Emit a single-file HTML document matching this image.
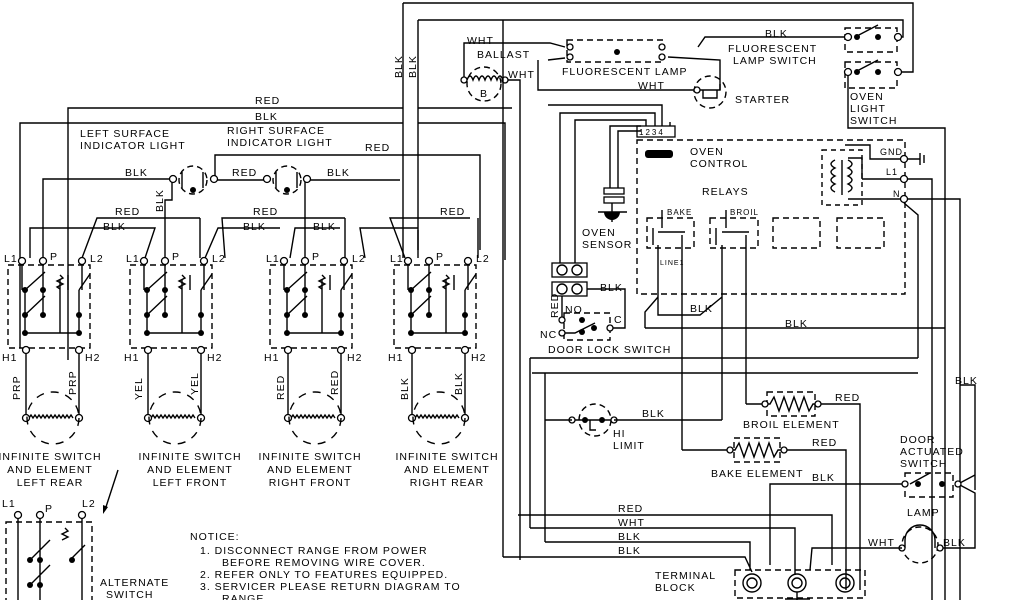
<!DOCTYPE html>
<html><head><meta charset="utf-8"><style>
html,body{margin:0;padding:0;background:#fff}
svg{display:block}
text{font-family:"Liberation Sans",sans-serif;font-size:10.5px;fill:#000;letter-spacing:1px}
.w{fill:none;stroke:#000;stroke-width:1.4}
.d{fill:none;stroke:#000;stroke-width:1.4;stroke-dasharray:6,4}
.t{fill:#fff;stroke:#000;stroke-width:1.3}
.k{fill:#000}
</style></head><body>
<svg width="1024" height="600" viewBox="0 0 1024 600">
<defs>
<g id="sw">
 <rect class="d" x="8" y="265" width="82" height="83"/>
 <path class="w" d="M22,261V290M43,261V315M82,261V290M60,280V333M25,290V333H79V290M43,315V290M68,275V290"/>
 <path class="w" d="M25,315L45,296M25,290L45,272M79,290L90,274M60,275l3,3-6,3 6,3-6,3 3,2"/>
 <circle class="k" cx="25" cy="290" r="3"/><circle class="k" cx="43" cy="290" r="3"/>
 <circle class="k" cx="25" cy="315" r="3"/><circle class="k" cx="43" cy="315" r="3"/>
 <circle class="k" cx="25" cy="333" r="3"/><circle class="k" cx="79" cy="333" r="3"/><circle class="k" cx="79" cy="315" r="3"/>
 <circle class="t" cx="22" cy="261" r="3.5"/><circle class="t" cx="43" cy="261" r="3.5"/><circle class="t" cx="82" cy="261" r="3.5"/>
 <path class="w" d="M26,348V418M79,348V418"/>
 <circle class="t" cx="26" cy="350" r="3.5"/><circle class="t" cx="79" cy="350" r="3.5"/>
 <path class="w" d="M29,418l2,-3 2,3 2,-3 2,3 2,-3 2,3 2,-3 2,3 2,-3 2,3 2,-3 2,3 2,-3 2,3 2,-3 2,3 2,-3 2,3 2,-3 2,3 2,-3 2,3"/>
 <circle class="t" cx="26" cy="418" r="3.5"/><circle class="t" cx="79" cy="418" r="3.5"/>
 <circle class="d" cx="53" cy="418" r="26" style="stroke-dasharray:8,7"/>
 <text x="4" y="262">L1</text><text x="50" y="260">P</text><text x="90" y="262">L2</text>
 <text x="2" y="361">H1</text><text x="85" y="361">H2</text>
</g>
</defs>

<!-- left top wires -->
<path class="w" d="M68,360V108H403M418,108H512M20,348V123H403M418,123H505V260"/>
<path class="w" d="M43,258V179H172M215,180H268M305,180H400M215,180V155H480V250M172,179V200H165V258M305,180V258"/>
<circle class="d" cx="193" cy="180" r="14"/><circle class="d" cx="287" cy="180" r="14"/>
<path class="w" d="M182,172V188M203,172V188M276,172V188M297,172V188"/>
<circle class="k" cx="193" cy="190" r="3"/><circle class="k" cx="287" cy="190" r="3"/>
<circle class="t" cx="173" cy="179" r="3.5"/><circle class="t" cx="214" cy="179" r="3.5"/><circle class="t" cx="267" cy="179" r="3.5"/><circle class="t" cx="307" cy="179" r="3.5"/>
<!-- cross wires between boxes -->
<path class="w" d="M82,258L97,218H200M145,258L155,228H30V258M200,218V258M225,258L222,218H345M205,258L218,228H280M345,218V258M365,258L360,228H418M290,258L295,228H340M405,258L390,218H470M478,258V218M418,230V258"/>
<path class="w" d="M403,3V258M418,20V250"/>
<text x="255" y="104">RED</text><text x="255" y="120">BLK</text>
<text x="80" y="137">LEFT SURFACE</text><text x="80" y="149">INDICATOR LIGHT</text>
<text x="227" y="134">RIGHT SURFACE</text><text x="227" y="146">INDICATOR LIGHT</text>
<text x="125" y="176">BLK</text><text x="232" y="176">RED</text><text x="327" y="176">BLK</text><text x="365" y="151">RED</text>
<text x="115" y="215">RED</text><text x="103" y="230">BLK</text><text x="253" y="215">RED</text><text x="243" y="230">BLK</text><text x="313" y="230">BLK</text><text x="440" y="215">RED</text>
<text transform="translate(163,212) rotate(-90)">BLK</text>
<text transform="translate(402,78) rotate(-90)">BLK</text><text transform="translate(416,78) rotate(-90)">BLK</text>

<use href="#sw"/>
<use href="#sw" x="122"/>
<use href="#sw" x="262"/>
<use href="#sw" x="386"/>
<text transform="translate(20,400) rotate(-90)">PRP</text><text transform="translate(76,395) rotate(-90)">PRP</text>
<text transform="translate(142,400) rotate(-90)">YEL</text><text transform="translate(198,395) rotate(-90)">YEL</text>
<text transform="translate(284,400) rotate(-90)">RED</text><text transform="translate(338,395) rotate(-90)">RED</text>
<text transform="translate(408,400) rotate(-90)">BLK</text><text transform="translate(462,395) rotate(-90)">BLK</text>

<g text-anchor="middle">
<text x="50" y="460">INFINITE SWITCH</text><text x="50" y="473">AND ELEMENT</text><text x="50" y="486">LEFT REAR</text>
<text x="190" y="460">INFINITE SWITCH</text><text x="190" y="473">AND ELEMENT</text><text x="190" y="486">LEFT FRONT</text>
<text x="310" y="460">INFINITE SWITCH</text><text x="310" y="473">AND ELEMENT</text><text x="310" y="486">RIGHT FRONT</text>
<text x="447" y="460">INFINITE SWITCH</text><text x="447" y="473">AND ELEMENT</text><text x="447" y="486">RIGHT REAR</text>
</g>
<path class="w" d="M118,470L105,510"/><path class="k" d="M103,514l0,-9 5,2z"/>
<!-- alternate switch -->
<rect class="d" x="6" y="522" width="86" height="80"/>
<path class="w" d="M18,515V600M40,515V600M82,515V600M30,560L50,540M30,585L50,565M70,560L85,545M65,528l3,3-6,3 6,3-6,3"/>
<circle class="k" cx="30" cy="560" r="3"/><circle class="k" cx="40" cy="560" r="3"/><circle class="k" cx="30" cy="585" r="3"/><circle class="k" cx="40" cy="585" r="3"/><circle class="k" cx="72" cy="560" r="3"/>
<circle class="t" cx="18" cy="515" r="3.5"/><circle class="t" cx="40" cy="515" r="3.5"/><circle class="t" cx="82" cy="515" r="3.5"/>
<text x="2" y="507">L1</text><text x="45" y="512">P</text><text x="82" y="507">L2</text>
<text x="100" y="586">ALTERNATE</text><text x="106" y="598">SWITCH</text>
<text x="190" y="540">NOTICE:</text>
<text x="200" y="554">1. DISCONNECT RANGE FROM POWER</text>
<text x="222" y="566">BEFORE REMOVING WIRE COVER.</text>
<text x="200" y="578">2. REFER ONLY TO FEATURES EQUIPPED.</text>
<text x="200" y="590">3. SERVICER PLEASE RETURN DIAGRAM TO</text>
<text x="222" y="602">RANGE.</text>

<!-- top right -->
<path class="w" d="M403,3H913V72H900M418,20H903V37H897M848,37H705L698,47M848,72V128H945V600"/>
<rect class="d" x="845" y="28" width="52" height="24"/><rect class="d" x="845" y="62" width="52" height="26"/>
<path class="w" d="M855,37L878,25M855,72L878,60"/>
<circle class="k" cx="857" cy="37" r="3"/><circle class="k" cx="878" cy="37" r="3"/><circle class="k" cx="857" cy="72" r="3"/><circle class="k" cx="878" cy="72" r="3"/>
<circle class="t" cx="848" cy="37" r="3.5"/><circle class="t" cx="898" cy="37" r="3.5"/><circle class="t" cx="848" cy="72" r="3.5"/><circle class="t" cx="898" cy="72" r="3.5"/>
<text x="765" y="37">BLK</text><text x="728" y="52">FLUORESCENT</text><text x="733" y="64">LAMP SWITCH</text>
<text x="850" y="100">OVEN</text><text x="850" y="112">LIGHT</text><text x="850" y="124">SWITCH</text>
<rect class="d" x="567" y="40" width="96" height="22"/><circle class="k" cx="617" cy="52" r="3"/>
<path class="w" d="M464,80V43H550L565,47M538,60V90H697M565,58L548,60M668,57L720,60V90M505,80H520V560"/>
<circle class="t" cx="570" cy="47" r="3"/><circle class="t" cx="570" cy="57" r="3"/><circle class="t" cx="662" cy="47" r="3"/><circle class="t" cx="662" cy="57" r="3"/>
<text x="562" y="75">FLUORESCENT LAMP</text>
<path class="w" d="M467,80q3,-8 6,0q3,-8 6,0q3,-8 6,0q3,-8 6,0q3,-8 6,0q3,-8 6,0"/>
<circle class="d" cx="484" cy="84" r="17"/><circle class="t" cx="464" cy="80" r="3"/><circle class="t" cx="505" cy="80" r="3"/>
<text x="480" y="97">B</text><text x="477" y="58">BALLAST</text><text x="467" y="44">WHT</text><text x="508" y="78">WHT</text>
<circle class="d" cx="710" cy="92" r="16"/><path class="w" d="M700,90h20v-6M703,90v8h14v-8"/><circle class="t" cx="697" cy="90" r="3"/>
<text x="735" y="103">STARTER</text><text x="638" y="89">WHT</text>
<!-- oven control -->
<rect class="d" x="637" y="140" width="268" height="154"/>
<rect class="t" x="637" y="126" width="38" height="11"/>
<text x="639" y="135" style="font-size:8px;letter-spacing:2px">1234</text>
<path class="w" d="M646,126V120H575V268M655,126V113H560V268M662,126V105H548M670,126V122M641,131H618V190M641,126H610V190"/>
<rect class="k" x="645" y="150" width="28" height="8" rx="3"/>
<text x="690" y="155">OVEN</text><text x="690" y="167">CONTROL</text><text x="702" y="195">RELAYS</text>
<rect class="t" x="604" y="188" width="20" height="6"/><rect class="t" x="604" y="197" width="20" height="6"/>
<path class="k" d="M604,212h16a8,8 0 0 1 -16,0z"/><path class="w" d="M612,203V222M598,212H627"/>
<text x="582" y="236">OVEN</text><text x="582" y="248">SENSOR</text>
<rect class="d" x="647" y="218" width="47" height="30"/><rect class="d" x="710" y="218" width="48" height="30"/>
<rect class="d" x="773" y="218" width="47" height="30"/><rect class="d" x="837" y="218" width="47" height="30"/>
<text x="667" y="215" style="font-size:8px">BAKE</text><text x="730" y="215" style="font-size:8px">BROIL</text>
<path class="w" d="M662,210V228M658,232H685M726,210V228M722,232H749M653,228V245M716,228V245M658,245V297M682,235V297M722,245V297M746,235V297"/>
<text x="660" y="265" style="font-size:7px">LINE1</text>
<path class="w" d="M822,150h40v55h-40z" style="stroke-dasharray:5,4"/>
<path class="w" d="M835,160q-8,4 0,8q-8,4 0,8q-8,4 0,8q-8,4 0,8M848,160q8,4 0,8q8,4 0,8q8,4 0,8q8,4 0,8M842,160V195M848,158H862V179M848,199H904M845,145H870V159H904M862,179H904"/>
<circle class="t" cx="904" cy="159" r="3.5"/><circle class="t" cx="904" cy="179" r="3.5"/><circle class="t" cx="904" cy="199" r="3.5"/>
<path class="w" d="M907,159H920M920,153V165M924,155V163"/>
<text x="880" y="155" style="font-size:9px">GND</text><text x="886" y="175" style="font-size:9px">L1</text><text x="893" y="197" style="font-size:9px">N</text>
<path class="w" d="M907,179H932V600M907,199H960V358M904,203L918,215V358"/>
<!-- door lock -->
<rect class="t" x="552" y="263" width="35" height="14"/><rect class="t" x="552" y="282" width="35" height="14"/>
<circle class="w" cx="562" cy="270" r="5"/><circle class="w" cx="577" cy="270" r="5"/><circle class="w" cx="562" cy="289" r="5"/><circle class="w" cx="577" cy="289" r="5"/>
<path class="w" d="M587,289H625V328H612M562,296V320M562,333H575L595,323"/>
<rect class="d" x="564" y="313" width="46" height="27"/>
<circle class="t" cx="562" cy="320" r="3"/><circle class="t" cx="562" cy="333" r="3"/><circle class="t" cx="610" cy="328" r="3"/>
<circle class="k" cx="582" cy="320" r="3"/><circle class="k" cx="582" cy="332" r="3"/><circle class="k" cx="594" cy="328" r="3"/>
<text x="600" y="291">BLK</text><text x="565" y="313">NO</text><text x="540" y="338">NC</text><text x="614" y="323">C</text>
<text transform="translate(558,318) rotate(-90)">RED</text>
<text x="548" y="353">DOOR LOCK SWITCH</text>
<path class="w" d="M658,297L645,312V328M658,297V315H700L722,297M682,297V450M746,297V404M722,297V420"/>
<text x="690" y="312">BLK</text>
<!-- lower frame -->
<path class="w" d="M530,358H918M532,373H918M960,358V600M530,358V528M545,373V542M503,20V557"/>
<text x="785" y="327">BLK</text><path class="w" d="M645,328H945"/>
<text x="955" y="384">BLK</text>
<path class="w" d="M960,385H975V490"/>
<circle class="d" cx="595" cy="420" r="16"/><path class="w" d="M572,420H614M590,420V430h6"/>
<circle class="k" cx="585" cy="420" r="3"/><circle class="k" cx="602" cy="420" r="3"/>
<circle class="t" cx="572" cy="420" r="3"/><circle class="t" cx="614" cy="420" r="3"/>
<path class="w" d="M572,420H545M614,420H722"/>
<text x="642" y="417">BLK</text><text x="613" y="437">HI</text><text x="613" y="449">LIMIT</text>
<rect class="d" x="767" y="392" width="48" height="24"/>
<path class="w" d="M746,404H770l4,-7 5,14 5,-14 5,14 5,-14 5,14 5,-14 5,14 4,-7H860V590"/>
<circle class="t" cx="765" cy="404" r="3"/><circle class="t" cx="818" cy="404" r="3"/>
<text x="835" y="401">RED</text><text x="743" y="428">BROIL ELEMENT</text>
<rect class="d" x="734" y="438" width="46" height="24"/>
<path class="w" d="M682,450H735l4,-7 5,14 5,-14 5,14 5,-14 5,14 5,-14 5,14 4,-7H846V590"/>
<circle class="t" cx="730" cy="450" r="3"/><circle class="t" cx="784" cy="450" r="3"/>
<text x="812" y="446">RED</text><text x="711" y="477">BAKE ELEMENT</text>
<rect class="d" x="905" y="473" width="48" height="24"/>
<path class="w" d="M770,565V484H905M910,484L930,473M958,484L975,475M958,484L975,493V548H940"/>
<circle class="k" cx="918" cy="484" r="3"/><circle class="k" cx="942" cy="484" r="3"/>
<circle class="t" cx="905" cy="484" r="3"/><circle class="t" cx="958" cy="484" r="3"/>
<text x="812" y="481">BLK</text>
<text x="900" y="443">DOOR</text><text x="900" y="455">ACTUATED</text><text x="900" y="467">SWITCH</text>
<text x="907" y="516">LAMP</text>
<circle class="d" cx="920" cy="545" r="18"/><path class="w" d="M905,548V540a15,15 0 0 1 30,0V548"/>
<circle class="t" cx="902" cy="548" r="3"/><circle class="t" cx="940" cy="548" r="3"/>
<path class="w" d="M810,570L812,548H902"/>
<text x="868" y="546">WHT</text><text x="943" y="546">BLK</text>
<path class="w" d="M518,515H832V565M530,528H795V575M545,542H750V570M503,557H745L752,572"/>
<text x="618" y="512">RED</text><text x="618" y="526">WHT</text><text x="618" y="540">BLK</text><text x="618" y="554">BLK</text>
<rect class="d" x="735" y="570" width="130" height="28"/>
<circle class="w" cx="752" cy="583" r="9"/><circle class="w" cx="797" cy="583" r="9"/><circle class="w" cx="845" cy="583" r="9"/>
<circle class="w" cx="752" cy="583" r="5"/><circle class="w" cx="797" cy="583" r="5"/><circle class="w" cx="845" cy="583" r="5"/>
<path class="w" d="M797,592V600M785,599H810"/>
<text x="655" y="579">TERMINAL</text><text x="655" y="591">BLOCK</text>
</svg>
</body></html>
